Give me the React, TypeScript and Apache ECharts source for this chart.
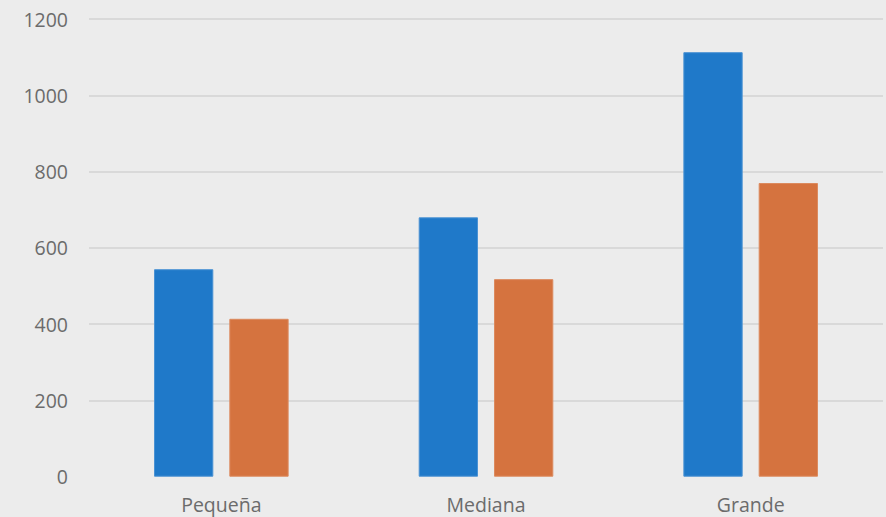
import React, { useEffect, useRef } from "react";
import * as echarts from "echarts";

const categories = ["Pequeña", "Mediana", "Grande"];
const seriesA = [544, 680, 1113];
const seriesB = [414, 518, 770];
const yTicks = { min: 0, max: 1200, interval: 200 };

export default function App() {
  const ref = useRef<HTMLDivElement>(null);
  useEffect(() => {
    document.body.style.margin = "0";
    const chart = echarts.init(ref.current!, null, { renderer: "svg" });
    const grid = "#d9d9d9";
    const font = "'Open Sans'";
    chart.setOption({
      animation: false,
      backgroundColor: "#ececec",
      textStyle: { fontFamily: font },
      grid: { left: 89, right: 3, top: 19, bottom: 40.3, containLabel: false },
      xAxis: {
        type: "category",
        data: categories,
        axisLine: { show: false },
        axisTick: { show: false },
        axisLabel: { color: "#6b6b6b", fontSize: 19.5, fontFamily: font, margin: 18 },
      },
      yAxis: {
        type: "value",
        min: yTicks.min,
        max: yTicks.max,
        interval: yTicks.interval,
        axisLine: { show: false },
        axisTick: { show: false },
        axisLabel: {
          color: "#6b6b6b",
          fontSize: 19.5,
          fontFamily: font,
          margin: 21,
          formatter: (v: number) => String(v),
        },
        splitLine: {
          lineStyle: {
            color: ["rgba(0,0,0,0)", grid, grid, grid, grid, grid, grid],
            width: 2,
          },
        },
      },
      series: [
        {
          type: "bar",
          data: seriesA,
          barWidth: 59.3,
          barGap: "27%",
          itemStyle: { color: "#1f79c9", borderColor: "#4a92d3", borderWidth: 1 },
        },
        {
          type: "bar",
          data: seriesB,
          barWidth: 59.3,
          barGap: "27%",
          itemStyle: { color: "#d5733f", borderColor: "#dc8a5e", borderWidth: 1 },
        },
      ],
    });
    return () => chart.dispose();
  }, []);
  return <div ref={ref} style={{ width: 886, height: 517 }} />;
}
